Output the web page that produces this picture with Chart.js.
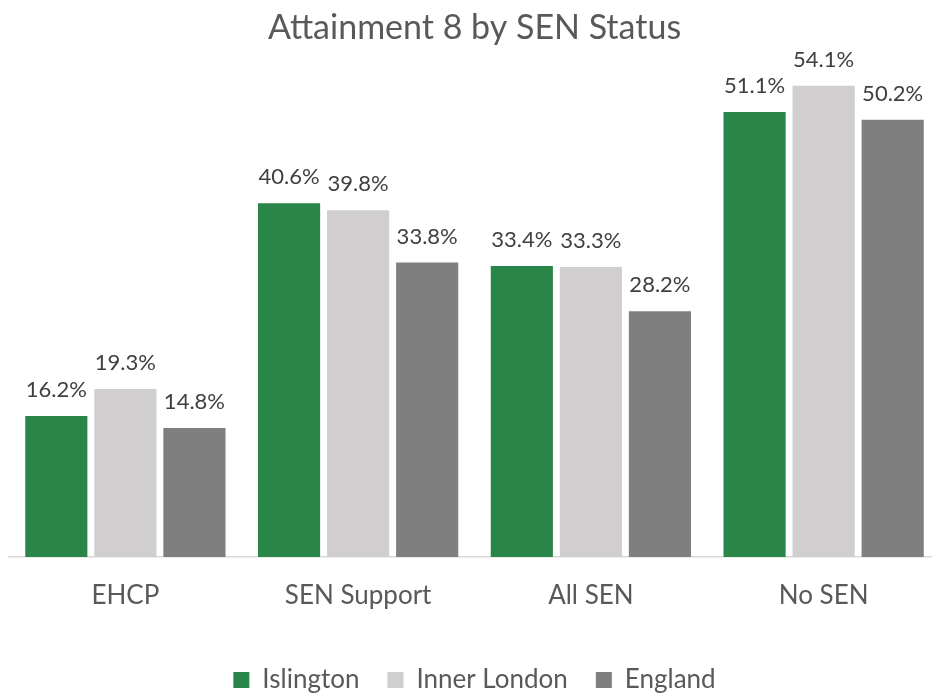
<!DOCTYPE html>
<html>
<head>
<meta charset="utf-8">
<script src="https://cdn.jsdelivr.net/npm/chart.js@4"></script>
<style>
  html, body { margin: 0; padding: 0; background: #fff; overflow: hidden; }
  #wrap { width: 940px; height: 693px; }
</style>
</head>
<body>
<div id="wrap"><canvas id="chart"></canvas></div>
<script>
// categorias y valores (% Attainment 8)
const categories = ['EHCP', 'SEN Support', 'All SEN', 'No SEN'];
const islington = [16.2, 40.6, 33.4, 51.1];
const innerLondon = [19.3, 39.8, 33.3, 54.1];
const england = [14.8, 33.8, 28.2, 50.2];

const FONT = 'Lato, "Open Sans", sans-serif';

// plugin sencillo para pintar las etiquetas encima de cada barra
const barLabels = {
  id: 'barLabels',
  afterDatasetsDraw(chart) {
    const ctx = chart.ctx;
    ctx.save();
    ctx.font = '22px ' + FONT;
    ctx.fillStyle = '#404040';
    ctx.textAlign = 'center';
    ctx.textBaseline = 'alphabetic';
    chart.data.datasets.forEach((ds, i) => {
      const meta = chart.getDatasetMeta(i);
      meta.data.forEach((bar, j) => {
        ctx.fillText(ds.data[j].toFixed(1) + '%', bar.x, bar.y - 19);
      });
    });
    ctx.restore();
  }
};

new Chart(document.getElementById('chart'), {
  type: 'bar',
  data: {
    labels: categories,
    datasets: [
      { label: 'Islington', data: islington, backgroundColor: '#2a8548' },
      { label: 'Inner London', data: innerLondon, backgroundColor: '#d0cece' },
      { label: 'England', data: england, backgroundColor: '#7f7f7f' }
    ]
  },
  options: {
    responsive: true,
    maintainAspectRatio: false,
    animation: false,
    datasets: {
      bar: { categoryPercentage: 0.89, barPercentage: 0.9 }
    },
    layout: { padding: { left: 9, right: 0, top: 0, bottom: 0 } },
    plugins: {
      title: {
        display: true,
        text: 'Attainment 8 by SEN Status',
        color: '#595959',
        font: { family: FONT, size: 34, weight: 'normal' },
        padding: { top: 8, bottom: 3 }
      },
      legend: {
        position: 'bottom',
        maxHeight: 54,
        labels: {
          color: '#595959',
          font: { family: FONT, size: 26 },
          boxWidth: 16,
          boxHeight: 16,
          padding: 28
        }
      },
      tooltip: { enabled: false }
    },
    scales: {
      x: {
        grid: { display: false, drawTicks: false },
        border: { color: '#d9d9d9', width: 1.5 },
        ticks: { color: '#595959', font: { family: FONT, size: 26 }, padding: 23 },
        afterFit: (scale) => { scale.height = 82; }
      },
      y: {
        min: 0,
        max: 58,
        display: false
      }
    }
  },
  plugins: [barLabels]
});
</script>
</body>
</html>
